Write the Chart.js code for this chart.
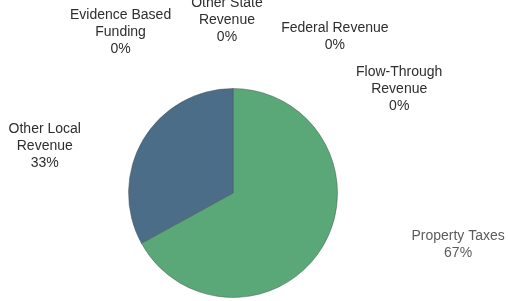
<!DOCTYPE html>
<html>
<head>
<meta charset="utf-8">
<script src="https://cdn.jsdelivr.net/npm/chart.js@4.4.0/dist/chart.umd.min.js"></script>
<style>
  html, body { margin: 0; padding: 0; background: #fff; }
  #wrap { width: 508px; height: 301px; }
</style>
</head>
<body>
<div id="wrap"><canvas id="revenue_pie"></canvas></div>
<script>
// data
var categories = ["Property Taxes", "Other Local Revenue", "Evidence Based Funding", "Other State Revenue", "Federal Revenue", "Flow-Through Revenue"];
var shares = [67, 33, 0, 0, 0, 0];
var sliceColors = ["#5aa777", "#4c6d88", "#7a9cc0", "#c0504d", "#9bbb59", "#f79646"];

// where each label sits: [angle clockwise from top (deg), distance from centre (px)]
var labelSpots = [[103, 231], [284, 194], [325, 196], [358, 173], [33, 187], [58, 196]];
var labelLines = [["Property Taxes"], ["Other Local", "Revenue"], ["Evidence Based", "Funding"], ["Other State", "Revenue"], ["Federal Revenue"], ["Flow-Through", "Revenue"]];

var outsideLabels = {
    id: "outsideLabels",
    afterDatasetsDraw: function(chart) {
        var ctx = chart.ctx;
        var arc = chart.getDatasetMeta(0).data[0];
        var cx = arc.x, cy = arc.y;
        ctx.save();
        ctx.font = "14px 'Liberation Sans', Arial, sans-serif";
        ctx.textAlign = "center";
        ctx.textBaseline = "middle";
        for (var i = 0; i < categories.length; i++) {
            var a = labelSpots[i][0] * Math.PI / 180;
            var x = cx + Math.sin(a) * labelSpots[i][1];
            var y = cy - Math.cos(a) * labelSpots[i][1];
            var lines = labelLines[i].concat([shares[i] + "%"]);
            var top = y - (lines.length - 1) * 17 / 2;
            ctx.fillStyle = i == 0 ? "#5c5c5c" : "#2e2e2e";
            for (var j = 0; j < lines.length; j++) {
                ctx.fillText(lines[j], x, top + j * 17);
            }
        }
        ctx.restore();
    }
};

var ctx1 = document.getElementById("revenue_pie").getContext("2d");
var myChart1 = new Chart(ctx1, {
    type: "pie",
    data: {
        labels: categories,
        datasets: [{
            data: shares,
            backgroundColor: sliceColors,
            borderColor: "rgba(70,80,80,0.45)",
            borderWidth: 1
        }]
    },
    options: {
        responsive: true,
        maintainAspectRatio: false,
        animation: false,
        layout: { padding: { top: 88, bottom: 3, left: 0, right: 42 } },
        plugins: {
            legend: { display: false },
            tooltip: { enabled: false }
        }
    },
    plugins: [outsideLabels]
});
</script>
</body>
</html>
